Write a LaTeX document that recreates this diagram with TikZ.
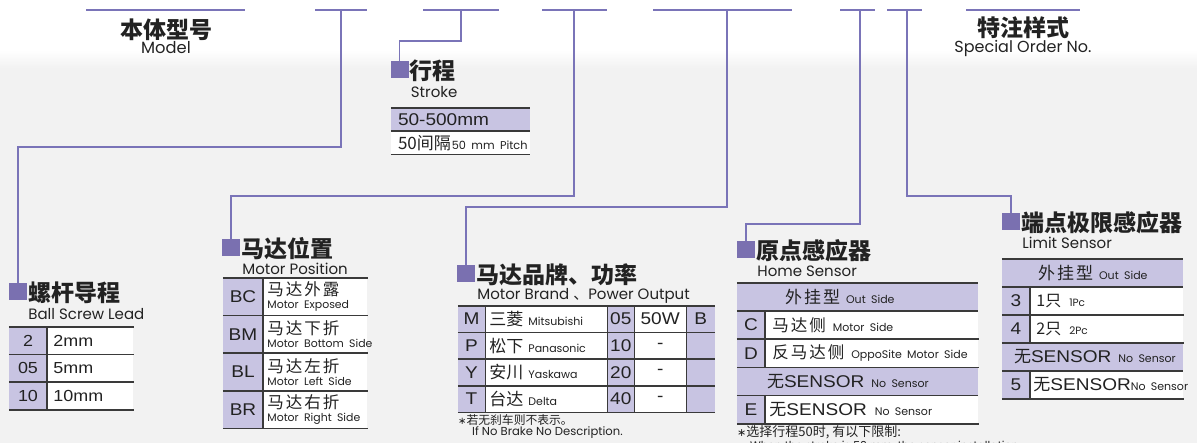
\documentclass[tikz,border=0pt]{standalone}
\usepackage{fontspec}
\setmainfont{Liberation Sans}
\newfontfamily\cjk{Noto Sans CJK SC}
\newfontfamily\cjkwide[LetterSpace=12]{Noto Sans CJK SC}
\newfontfamily\geo{Poppins}
\newfontfamily\tabfont[FakeStretch=1.12]{Liberation Sans}
\newfontfamily\astfont{DejaVu Sans}
\usepackage{xcolor}
\usepackage{tikz}
\usetikzlibrary{positioning,calc}

\definecolor{linkc}{RGB}{122,116,184}
\definecolor{markc}{RGB}{122,112,176}
\definecolor{keyc}{RGB}{200,196,226}
\definecolor{rulec}{RGB}{58,58,58}
\definecolor{bgc}{RGB}{242,242,242}
\definecolor{textc}{RGB}{34,34,34}
\newcommand{\fsz}[1]{\fontsize{#1}{#1}\selectfont}

\begin{document}
\begin{tikzpicture}[x=1pt,y=-1pt,
    connector/.style={draw=linkc,line width=1.8pt},
    topbar/.style={draw=linkc,line width=2.4pt},
    tagbox/.style={fill=markc,minimum width=18pt,minimum height=17pt,inner sep=0pt},
    heading/.style={font=\cjk\bfseries\fsz{23},text=textc,inner sep=0pt,anchor=west},
    caption/.style={font=\geo\fsz{15},text=textc,inner sep=0pt,anchor=west},
    tabrule/.style={draw=rulec,line width=1.6pt},
    keycell/.style={fill=keyc,inner sep=0pt,font=\tabfont\fsz{16},text=textc},
    valcell/.style={fill=white,inner ysep=0pt,font=\tabfont\fsz{16},text=textc,align=left},
    notetext/.style={font=\cjk\fsz{12},text=textc,inner sep=0pt,anchor=west},
    leadkey/.style={keycell,minimum width=38pt,minimum height=27.3pt},
    leadval/.style={valcell,minimum height=27.3pt,inner xsep=6pt,text width=74pt},
    poskey/.style={keycell,minimum width=40pt,minimum height=37.25pt,font=\tabfont\fsz{17}},
    posval/.style={valcell,minimum height=37.25pt,inner xsep=4pt,text width=96pt},
    brkey/.style={keycell,minimum width=27pt,minimum height=26.25pt,font=\tabfont\fsz{17}},
    brname/.style={valcell,minimum height=26.25pt,inner xsep=4pt,text width=114pt},
    brnum/.style={keycell,minimum width=26pt,minimum height=26.25pt,font=\tabfont\fsz{17}},
    brpow/.style={valcell,minimum height=26.25pt,inner xsep=0pt,text width=52pt,align=center,font=\tabfont\fsz{17}},
    brbrake/.style={keycell,minimum width=28pt,minimum height=26.25pt,font=\tabfont\fsz{17}},
    homekey/.style={keycell,minimum width=28pt,minimum height=27.8pt,font=\tabfont\fsz{17}},
    homeval/.style={valcell,minimum height=27.8pt,inner xsep=7pt,text width=199pt},
    homebar/.style={keycell,minimum height=27.8pt,align=left},
    limkey/.style={keycell,minimum width=28pt,minimum height=27.6pt,font=\tabfont\fsz{17}},
    limval/.style={valcell,minimum height=27.6pt,inner xsep=6pt,text width=141pt},
    limbar/.style={keycell,minimum height=27.6pt,align=left}
  ]
  \useasboundingbox (0,0) rectangle (1197,443);
  \clip (0,0) rectangle (1197,443);

  % background band
  \fill[bgc] (0,68) rectangle (1197,443);
  \shade[top color=white,bottom color=bgc] (0,50) rectangle (1197,68);

  % top row: model code bars
  \draw[topbar] (86,10) -- (245,10);
  \draw[topbar] (315,10) -- (367,10);
  \draw[topbar] (423,10) -- (499,10);
  \draw[topbar] (542,10) -- (607,10);
  \draw[topbar] (653,10) -- (792,10);
  \draw[topbar] (840,10) -- (875,10);
  \draw[topbar] (887,10) -- (922,10);
  \draw[topbar] (966,10) -- (1080,10);
  \coordinate (top2) at (341,10);
  \coordinate (top3) at (461,10);
  \coordinate (top4) at (574,10);
  \coordinate (top5) at (727,10);
  \coordinate (top6) at (860,10);
  \coordinate (top7) at (907,10);

  \node[heading,anchor=center] (modelhd) at (166,30) {本体型号};
  \node[caption,anchor=center,font=\geo\fsz{16.3}] (modelsub) at (166,48) {Model};
  \node[heading,anchor=center] (spechd) at (1023,28) {特注样式};
  \node[caption,anchor=center,font=\geo\fsz{16}] (specsub) at (1023,48) {Special Order No.};

  % Ball screw lead
  \node[tagbox] (lead) at (18,292) {};
  \node[heading] (leadhd) at ($(lead.east)+(1,1)$) {螺杆导程};
  \node[caption] (leadsub) at ($(lead.east)+(1,22)$) {Ball Screw Lead};
  \node[leadkey] (lk1) at (28,340.65) {2};
  \node[leadval,right=0pt of lk1] (lv1) {2mm};
  \node[leadkey,below=0pt of lk1] (lk2) {05};
  \node[leadval,right=0pt of lk2] (lv2) {5mm};
  \node[leadkey,below=0pt of lk2] (lk3) {10};
  \node[leadval,right=0pt of lk3] (lv3) {10mm};
  \draw[tabrule] (lk1.north west) -- (lv1.north east);
  \draw[tabrule] (lk1.south west) -- (lv1.south east);
  \draw[tabrule] (lk2.south west) -- (lv2.south east);
  \draw[tabrule] (lk3.south west) -- (lv3.south east);
  \draw[tabrule] (lk1.north east) -- (lk3.south east);

  % Stroke
  \node[tagbox] (stroke) at (399.5,70) {};
  \node[heading] (strokehd) at ($(stroke.east)+(1,1)$) {行程};
  \node[caption] (strokesub) at ($(stroke.east)+(2,22)$) {Stroke};
  \node[keycell,minimum width=139pt,minimum height=23pt,align=left,inner xsep=7pt,
    text width=125pt,font=\tabfont\fsz{17}] (sb1) at (460.5,119.5) {50-500mm};
  \node[valcell,minimum height=23pt,inner xsep=7pt,text width=125pt,anchor=north west]
    (sb2) at (sb1.south west) {\mbox{{\cjk\fsz{17}50间隔}\hspace{1pt}{\geo\fsz{11.3}50 mm Pitch}}};
  \draw[tabrule] (sb1.north west) -- (sb1.north east);
  \draw[tabrule] (sb1.south west) -- (sb1.south east);
  \draw[tabrule] (sb2.south west) -- (sb2.south east);

  % Motor position
  \node[tagbox] (pos) at (231,247.5) {};
  \node[heading] (poshd) at ($(pos.east)+(1,1)$) {马达位置};
  \node[caption] (possub) at ($(pos.east)+(2,21)$) {Motor Position};
  \node[poskey] (pk1) at (243,296.6) {BC};
  \node[posval,right=0pt of pk1] (pv1) {\mbox{\cjkwide\fsz{16.5}马达外露}\\[-3pt]\mbox{\geo\fsz{10.9}Motor Exposed}};
  \node[poskey,below=0pt of pk1] (pk2) {BM};
  \node[posval,right=0pt of pk2] (pv2) {\mbox{\cjkwide\fsz{16.5}马达下折}\\[-3pt]\mbox{\geo\fsz{10.9}Motor Bottom Side}};
  \node[poskey,below=0pt of pk2] (pk3) {BL};
  \node[posval,right=0pt of pk3] (pv3) {\mbox{\cjkwide\fsz{16.5}马达左折}\\[-3pt]\mbox{\geo\fsz{10.9}Motor Left Side}};
  \node[poskey,below=0pt of pk3] (pk4) {BR};
  \node[posval,right=0pt of pk4] (pv4) {\mbox{\cjkwide\fsz{16.5}马达右折}\\[-3pt]\mbox{\geo\fsz{10.9}Motor Right Side}};
  \draw[tabrule] (pk1.north west) -- (pv1.north east);
  \draw[tabrule] (pk1.south west) -- (pv1.south east);
  \draw[tabrule] (pk2.south west) -- (pv2.south east);
  \draw[tabrule] (pk3.south west) -- (pv3.south east);
  \draw[tabrule] (pk4.south west) -- (pv4.south east);
  \draw[tabrule] (pk1.north east) -- (pk4.south east);

  % Motor brand, power output
  \node[tagbox] (brand) at (466,274) {};
  \node[heading] (brandhd) at ($(brand.east)+(1,1)$) {马达品牌、功率};
  \node[caption] (brandsub) at ($(brand.east)+(2,22)$) {Motor Brand {\cjk 、}Power Output};
  \node[brkey] (bk1) at (471.5,319.1) {M};
  \node[brname,right=0pt of bk1] (bn1) {\mbox{{\cjk\fsz{17}三菱}\hspace{5pt}{\geo\fsz{11}Mitsubishi}}};
  \node[brnum,right=0pt of bn1] (bw1) {05};
  \node[brpow,right=0pt of bw1] (bp1) {50W};
  \node[brbrake,right=0pt of bp1] (bb1) {B};
  \node[brkey,below=0pt of bk1] (bk2) {P};
  \node[brname,right=0pt of bk2] (bn2) {\mbox{{\cjk\fsz{17}松下}\hspace{5pt}{\geo\fsz{11}Panasonic}}};
  \node[brnum,right=0pt of bn2] (bw2) {10};
  \node[brpow,right=0pt of bw2] (bp2) {-};
  \node[brbrake,right=0pt of bp2] (bb2) {};
  \node[brkey,below=0pt of bk2] (bk3) {Y};
  \node[brname,right=0pt of bk3] (bn3) {\mbox{{\cjk\fsz{17}安川}\hspace{5pt}{\geo\fsz{11}Yaskawa}}};
  \node[brnum,right=0pt of bn3] (bw3) {20};
  \node[brpow,right=0pt of bw3] (bp3) {-};
  \node[brbrake,right=0pt of bp3] (bb3) {};
  \node[brkey,below=0pt of bk3] (bk4) {T};
  \node[brname,right=0pt of bk4] (bn4) {\mbox{{\cjk\fsz{17}台达}\hspace{5pt}{\geo\fsz{11}Delta}}};
  \node[brnum,right=0pt of bn4] (bw4) {40};
  \node[brpow,right=0pt of bw4] (bp4) {-};
  \node[brbrake,right=0pt of bp4] (bb4) {};
  \draw[tabrule] (bk1.north west) -- (bb1.north east);
  \draw[tabrule] (bk1.south west) -- (bb1.south east);
  \draw[tabrule] (bk2.south west) -- (bb2.south east);
  \draw[tabrule] (bk3.south west) -- (bb3.south east);
  \draw[tabrule] (bk4.south west) -- (bb4.south east);
  \draw[tabrule,line width=1pt] (bk1.north east) -- (bk4.south east);
  \draw[tabrule,line width=1pt] (bn1.north east) -- (bn4.south east);
  \draw[tabrule,line width=0.6pt] (bw1.north east) -- (bw4.south east);
  \draw[tabrule,line width=0.6pt] (bp1.north east) -- (bp4.south east);
  \node[notetext,font=\cjk\fsz{11.8}] (brandnote) at (458,420) {{\astfont\fsz{10}∗}若无刹车则不表示。};
  \node[notetext,font=\geo\fsz{11.6}] (brandnote2) at (472,432.5) {If No Brake No Description.};

  % Home sensor
  \node[tagbox] (home) at (746,250) {};
  \node[heading] (homehd) at ($(home.east)+(1,1)$) {原点感应器};
  \node[caption] (homesub) at ($(home.east)+(2,21)$) {Home Sensor};
  \node[homebar,inner xsep=48pt,text width=145pt] (hb1) at (857.5,296.9)
    {\mbox{{\cjkwide\fsz{17}外挂型}\hspace{6pt}{\geo\fsz{11}Out Side}}};
  \node[homekey,anchor=north west] (hk1) at (hb1.south west) {C};
  \node[homeval,right=0pt of hk1] (hv1) {\mbox{{\cjkwide\fsz{16.5}马达侧}\hspace{7pt}{\geo\fsz{11}Motor Side}}};
  \node[homekey,below=0pt of hk1] (hk2) {D};
  \node[homeval,right=0pt of hk2] (hv2) {\mbox{{\cjkwide\fsz{16.5}反马达侧}\hspace{7pt}{\geo\fsz{11}OppoSite Motor Side}}};
  \node[homebar,inner xsep=30pt,text width=181pt,anchor=north west] (hb2) at (hk2.south west)
    {\mbox{{\cjk\fsz{17}无}{\tabfont\fsz{17}SENSOR}\hspace{7pt}{\geo\fsz{11}No Sensor}}};
  \node[homekey,anchor=north west] (hk3) at (hb2.south west) {E};
  \node[homeval,inner xsep=4pt,text width=205pt,right=0pt of hk3] (hv3)
    {\mbox{{\cjk\fsz{17}无}{\tabfont\fsz{17}SENSOR}\hspace{8pt}{\geo\fsz{11}No Sensor}}};
  \draw[tabrule] (hb1.north west) -- (hb1.north east);
  \draw[tabrule] (hb1.south west) -- (hb1.south east);
  \draw[tabrule] (hk1.south west) -- (hv1.south east);
  \draw[tabrule] (hk2.south west) -- (hv2.south east);
  \draw[tabrule] (hb2.south west) -- (hb2.south east);
  \draw[tabrule] (hk3.south west) -- (hv3.south east);
  \draw[tabrule] (hk1.north east) -- (hk2.south east);
  \draw[tabrule] (hk3.north east) -- (hk3.south east);
  \node[notetext,font=\cjk\fsz{13}] (homenote) at (737,432) {{\astfont\fsz{11}∗}选择行程50时, 有以下限制:};
  \node[notetext,font=\geo\fsz{11}] (homenote2) at (750,446) {When the stroke is 50 mm, the sensor installation};

  % Limit sensor
  \node[tagbox] (limit) at (1011,222) {};
  \node[heading] (limithd) at ($(limit.east)+(1,1)$) {端点极限感应器};
  \node[caption] (limitsub) at ($(limit.east)+(2,21)$) {Limit Sensor};
  \node[limbar,inner xsep=36pt,text width=109pt] (lb1) at (1092.5,272.8)
    {\mbox{{\cjkwide\fsz{17}外挂型}\hspace{6pt}{\geo\fsz{11}Out Side}}};
  \node[limkey,anchor=north west] (mk1) at (lb1.south west) {3};
  \node[limval,right=0pt of mk1] (mv1) {\mbox{{\cjk\fsz{16}1只}\hspace{8pt}{\geo\fsz{10.5}1Pc}}};
  \node[limkey,below=0pt of mk1] (mk2) {4};
  \node[limval,right=0pt of mk2] (mv2) {\mbox{{\cjk\fsz{16}2只}\hspace{8pt}{\geo\fsz{10.5}2Pc}}};
  \node[limbar,inner xsep=12pt,text width=157pt,anchor=north west] (lb2) at (mk2.south west)
    {\mbox{{\cjk\fsz{17}无}{\tabfont\fsz{17}SENSOR}\hspace{7pt}{\geo\fsz{11}No Sensor}}};
  \node[limkey,anchor=north west] (mk3) at (lb2.south west) {5};
  \node[limval,inner xsep=3pt,text width=147pt,right=0pt of mk3] (mv3)
    {\mbox{{\cjk\fsz{17}无}{\tabfont\fsz{17}SENSOR}{\geo\fsz{11}No Sensor}}};
  \draw[tabrule] (lb1.north west) -- (lb1.north east);
  \draw[tabrule] (lb1.south west) -- (lb1.south east);
  \draw[tabrule] (mk1.south west) -- (mv1.south east);
  \draw[tabrule] (mk2.south west) -- (mv2.south east);
  \draw[tabrule] (lb2.south west) -- (lb2.south east);
  \draw[tabrule] (mk3.south west) -- (mv3.south east);
  \draw[tabrule] (mk1.north east) -- (mk2.south east);
  \draw[tabrule] (mk3.north east) -- (mk3.south east);

  % connectors from the model code to each field
  \draw[connector] (top2) -- ++(0,137) -| (lead.north);
  \draw[connector] (top3) -- ++(0,31) -| (stroke.north);
  \draw[connector] (top4) -- ++(0,186) -| (pos.north);
  \draw[connector] (top5) -- ++(0,197) -| (brand.north);
  \draw[connector] (top6) -- ++(0,214) -| (home.north);
  \draw[connector] (top7) -- ++(0,186) -| (limit.north);
\end{tikzpicture}
\end{document}
